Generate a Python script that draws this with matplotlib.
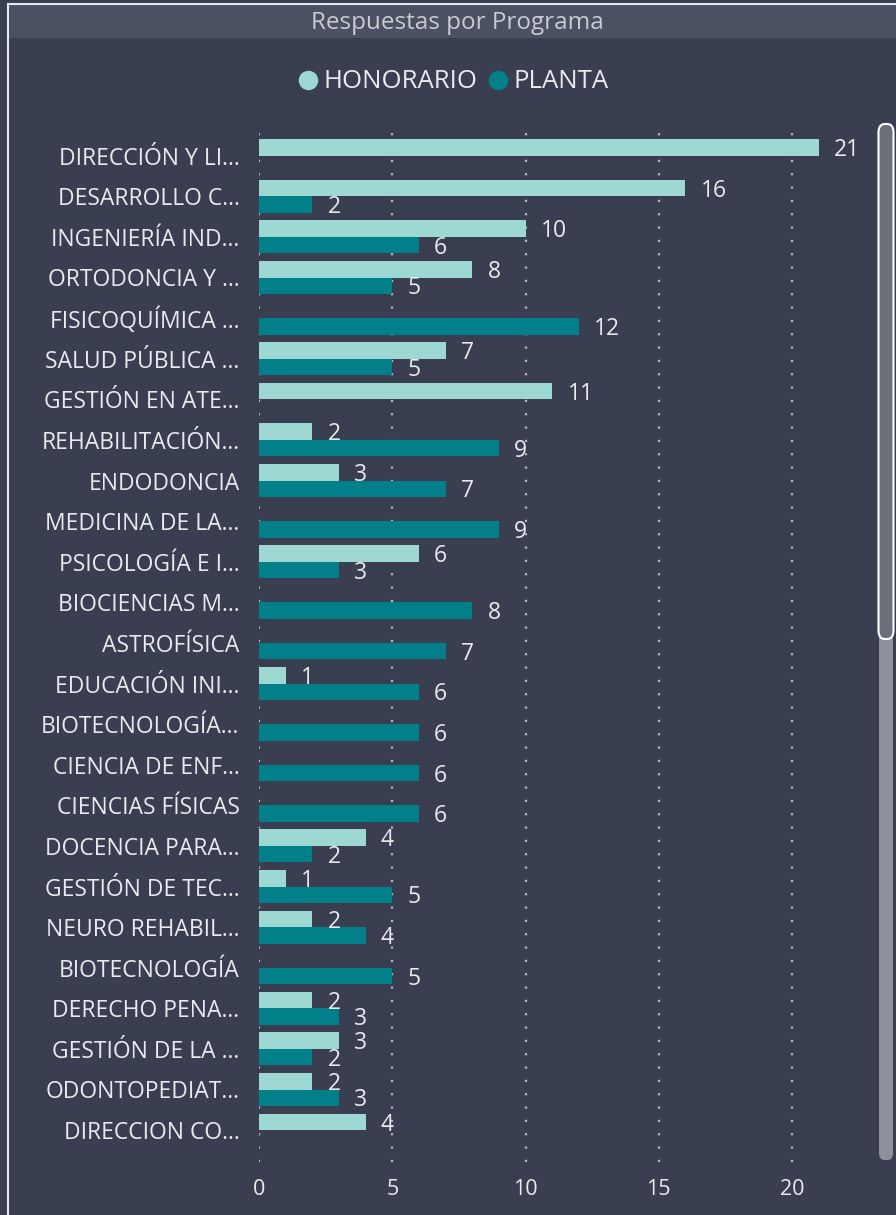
import numpy as np
import matplotlib
matplotlib.use("Agg")
import matplotlib.pyplot as plt
from matplotlib.patches import FancyBboxPatch, Rectangle
from matplotlib.lines import Line2D

# datos
programas = ["DIRECCIÓN Y LI...", "DESARROLLO C...", "INGENIERÍA IND...", "ORTODONCIA Y ...",
             "FISICOQUÍMICA ...", "SALUD PÚBLICA ...", "GESTIÓN EN ATE...", "REHABILITACIÓN...",
             "ENDODONCIA", "MEDICINA DE LA...", "PSICOLOGÍA E I...", "BIOCIENCIAS M...",
             "ASTROFÍSICA", "EDUCACIÓN INI...", "BIOTECNOLOGÍA...", "CIENCIA DE ENF...",
             "CIENCIAS FÍSICAS", "DOCENCIA PARA...", "GESTIÓN DE TEC...", "NEURO REHABIL...",
             "BIOTECNOLOGÍA", "DERECHO PENA...", "GESTIÓN DE LA ...", "ODONTOPEDIAT...",
             "DIRECCION CO..."]
honorario = [21, 16, 10, 8, 0, 7, 11, 2, 3, 0, 6, 0, 0, 1, 0, 0, 0, 4, 1, 2, 0, 2, 3, 2, 4]
planta = [0, 2, 6, 5, 12, 5, 0, 9, 7, 9, 3, 8, 7, 6, 6, 6, 6, 2, 5, 4, 5, 3, 2, 3, 0]
ticks = [0, 5, 10, 15, 20]

c_hon = "#9dd9d2"
c_pla = "#01808a"
fondo = "#393f50"
texto = "#e8eaee"

plt.rcParams['font.family'] = ['Open Sans', 'DejaVu Sans']

W, H = 896, 1215
fig = plt.figure(figsize=(W / 100, H / 100), dpi=100)
fig.patch.set_facecolor(fondo)

# marco y barra de titulo
fig.add_artist(Rectangle((8 / W, 1 - 38 / H), 1, 33 / H, transform=fig.transFigure,
                         facecolor="#4a5162", edgecolor="none"))
fig.add_artist(Line2D([7.5 / W, 7.5 / W], [0, 1 - 4 / H], transform=fig.transFigure,
                      color="#e6e9ef", lw=1.5))
fig.add_artist(Line2D([7.5 / W, 1], [1 - 4 / H, 1 - 4 / H], transform=fig.transFigure,
                      color="#e6e9ef", lw=1.5))
fig.text(457 / W, 1 - 23 / H, "Respuestas por Programa", ha="center", va="center",
         color="#c9cbd0", fontsize=17.5)

# ejes
x0, x1 = 259, 862
ytop, ybot = 128, 1162
ax = fig.add_axes([x0 / W, 1 - ybot / H, (x1 - x0) / W, (ybot - ytop) / H])
ax.set_facecolor(fondo)
px_unit = (792 - 259) / 20
ax.set_xlim(0, (x1 - x0) / px_unit)
row = 40.6
ax.set_ylim((ybot - 155.7) / row, -(155.7 - ytop) / row)

y = np.arange(len(programas))
h = 0.405
b1 = ax.barh(y - h / 2, honorario, height=h, color=c_hon, zorder=2)
b2 = ax.barh(y + h / 2, planta, height=h, color=c_pla, zorder=2)

for bars, vals in ((b1, honorario), (b2, planta)):
    for rect, v in zip(bars, vals):
        if v == 0:
            continue
        ax.annotate(str(v), (v, rect.get_y() + rect.get_height() / 2),
                    xytext=(11, -2), textcoords="offset points", ha="left", va="center",
                    color=texto, fontsize=16.5, zorder=3)

ax.set_yticks(y)
ax.set_yticklabels(programas, color=texto, fontsize=16.5)
ax.set_xticks(ticks)
ax.set_xticklabels([str(t) for t in ticks], color=texto, fontsize=15.5)
ax.tick_params(axis="both", length=0)
ax.tick_params(axis="y", pad=14)
ax.tick_params(axis="x", pad=12)
ax.grid(axis="x", color="#b5b8bf", linestyle=(0, (1, 5)), linewidth=1.6, zorder=1)
for s in ax.spines.values():
    s.set_visible(False)

# leyenda
handles = [Line2D([], [], marker="o", linestyle="none", markersize=13, color=c_hon),
           Line2D([], [], marker="o", linestyle="none", markersize=13, color=c_pla)]
fig.legend(handles, ["HONORARIO", "PLANTA"], loc="center", bbox_to_anchor=(452 / W, 1 - 82 / H),
           ncol=2, frameon=False, fontsize=18.5, labelcolor=texto, handletextpad=0.1,
           columnspacing=0.3, handlelength=1.0)

# barra de desplazamiento
fig.add_artist(FancyBboxPatch((879 / W, 1 - 1160 / H), 14 / W, 1030 / H,
                              boxstyle="round,pad=0,rounding_size=0.006",
                              transform=fig.transFigure, facecolor="#8d919b", edgecolor="none"))
fig.add_artist(FancyBboxPatch((878.5 / W, 1 - 639 / H), 15 / W, 515 / H,
                              boxstyle="round,pad=0,rounding_size=0.007",
                              transform=fig.transFigure, facecolor="#6c6f79",
                              edgecolor="white", lw=1.5))

fig.savefig("out.png", dpi=100, facecolor=fig.get_facecolor())
